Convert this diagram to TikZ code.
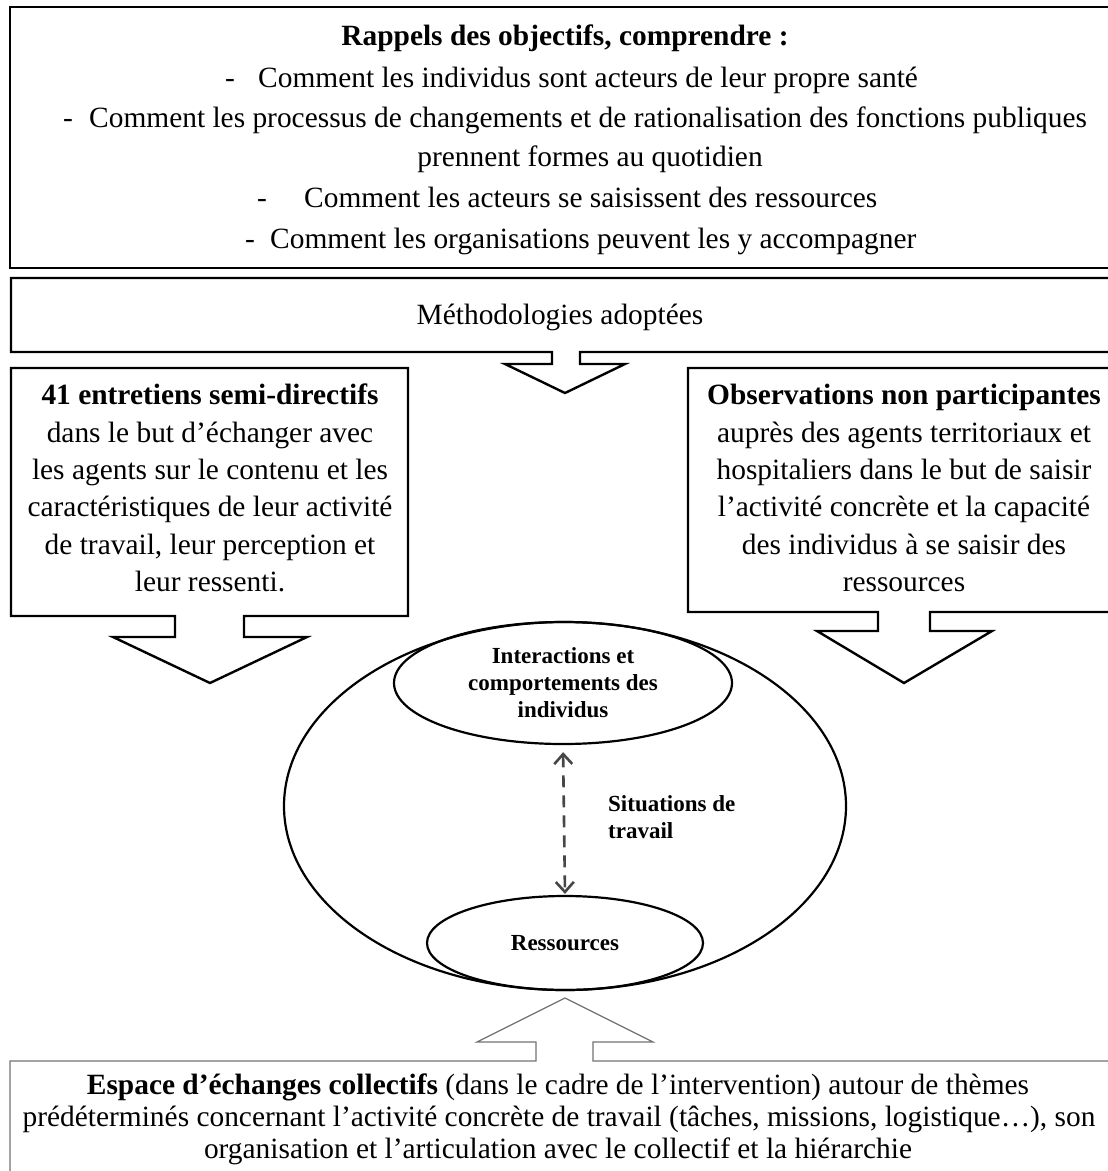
\documentclass[tikz,border=0pt]{standalone}
\usepackage{fontspec}
\setmainfont{Liberation Serif}
\usetikzlibrary{arrows.meta,shapes.geometric}
\begin{document}
\begin{tikzpicture}[x=1pt,y=-1pt,
  box/.style={draw=black,line width=2.4pt,line join=miter},
  graybox/.style={draw=black!55,line width=1.2pt,line join=miter},
  txt/.style={inner sep=0pt,text height=0.7em,text depth=0.22em,font=\fontsize{29.4}{40}\selectfont},
  btxt/.style={txt,font=\fontsize{29.4}{40}\selectfont\bfseries},
  itxt/.style={inner sep=0pt,align=center,font=\fontsize{23}{27}\selectfont\bfseries},
  ell/.style={draw=black,line width=2.2pt,ellipse,inner sep=0pt},
  dasharrow/.style={draw=black!72,line width=2.6pt,dash pattern=on 12pt off 8pt,
     arrows={Straight Barb[length=10pt,width=18pt]-Straight Barb[length=10pt,width=18pt]}}
]
\useasboundingbox (0,0) rectangle (1108,1171);
\clip (0,0) rectangle (1108,1171);
\fill[white] (0,0) rectangle (1108,1171);

% top box
\draw[box] (10,7) rectangle (1120,268);
\node[btxt] (title) at (565,43) {Rappels des objectifs, comprendre :};
\node[txt] (d1) at (230,85) {-};
\node[txt,anchor=west] (l1) at (258,85) {Comment les individus sont acteurs de leur propre santé};
\node[txt] (d2) at (68,125) {-};
\node[txt,anchor=west] (l2) at (89,125) {Comment les processus de changements et de rationalisation des fonctions publiques};
\node[txt] (l3) at (590,164) {prennent formes au quotidien};
\node[txt] (d4) at (262,205) {-};
\node[txt,anchor=west] (l4) at (304,205) {Comment les acteurs se saisissent des ressources};
\node[txt] (d5) at (250,246) {-};
\node[txt,anchor=west] (l5) at (270,246) {Comment les organisations peuvent les y accompagner};

% methodology box with down arrow
\draw[box] (11,278) -- (1120,278) -- (1120,352) -- (580,352) -- (580,364) -- (625,364)
  -- (565,393) -- (505,364) -- (552,364) -- (552,352) -- (11,352) -- cycle;
\node[txt] (meth) at (560,322) {Méthodologies adoptées};

% left box
\draw[box] (11,368) -- (408,368) -- (408,616) -- (244,616) -- (244,637) -- (307,637)
  -- (210,683) -- (113,637) -- (175,637) -- (175,616) -- (11,616) -- cycle;
\node[btxt] (a1) at (210,402) {41 entretiens semi-directifs};
\node[txt] (a2) at (210,440) {dans le but d’échanger avec};
\node[txt] (a3) at (210,477) {les agents sur le contenu et les};
\node[txt] (a4) at (210,514) {caractéristiques de leur activité};
\node[txt] (a5) at (210,552) {de travail, leur perception et};
\node[txt] (a6) at (210,589) {leur ressenti.};

% right box
\draw[box] (688,368) -- (1120,368) -- (1120,612) -- (930,612) -- (930,631) -- (992,631)
  -- (904,683) -- (817,631) -- (878,631) -- (878,612) -- (688,612) -- cycle;
\node[btxt] (b1) at (904,402) {Observations non participantes};
\node[txt] (b2) at (904,440) {auprès des agents territoriaux et};
\node[txt] (b3) at (904,477) {hospitaliers dans le but de saisir};
\node[txt] (b4) at (904,514) {l’activité concrète et la capacité};
\node[txt] (b5) at (904,552) {des individus à se saisir des};
\node[txt] (b6) at (904,589) {ressources};

% ellipses
\node[ell,minimum width=562pt,minimum height=368pt] (outer) at (565,806) {};
\node[ell,itxt,minimum width=338pt,minimum height=122pt] (inter) at (563,683)
  {Interactions et\\comportements des\\individus};
\node[ell,itxt,minimum width=276pt,minimum height=94pt] (res) at (565,943) {Ressources};
\draw[dasharrow,shorten <=7pt,shorten >=1pt] (inter.south) -- (res.north);
\node[itxt,align=left,anchor=west] (sit) at (608,817) {Situations de\\travail};

% bottom box with up arrow
\draw[graybox] (10,1061) -- (536,1061) -- (536,1042) -- (477,1042) -- (565,998)
  -- (653,1042) -- (593,1042) -- (593,1061) -- (1120,1061) -- (1120,1190) -- (10,1190) -- cycle;
\node[txt] (c1) at (558,1092) {\textbf{Espace d’échanges collectifs} (dans le cadre de l’intervention) autour de thèmes};
\node[txt] (c2) at (559,1124) {prédéterminés concernant l’activité concrète de travail (tâches, missions, logistique…), son};
\node[txt] (c3) at (558,1156) {organisation et l’articulation avec le collectif et la hiérarchie};
\end{tikzpicture}
\end{document}
